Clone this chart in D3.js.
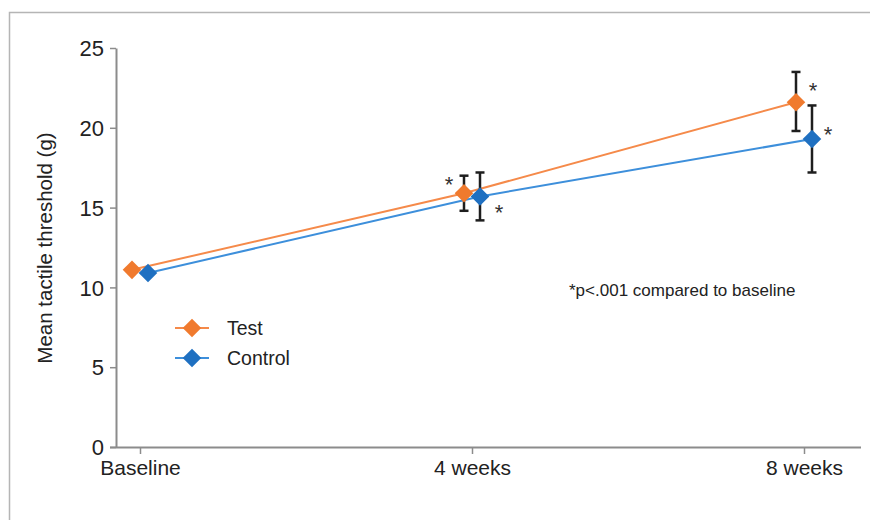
<!DOCTYPE html>
<html>
<head>
<meta charset="utf-8">
<script src="https://cdn.jsdelivr.net/npm/d3@7"></script>
<style>
  body { margin: 0; background: #fff; }
  text { font-family: "Liberation Sans", Arial, sans-serif; fill: #222; }
</style>
</head>
<body>
<div id="chart"></div>
<script>
// Data
const timepoints = ["Baseline", "4 weeks", "8 weeks"];
const seriesNames = ["Test", "Control"];
const testMean = [11.1, 15.9, 21.6];
const testLow = [null, 14.8, 19.8];
const testHigh = [null, 17.0, 23.5];
const controlMean = [10.9, 15.7, 19.3];
const controlLow = [null, 14.2, 17.2];
const controlHigh = [null, 17.2, 21.4];
const significant = [false, true, true];
const yTicks = [0, 5, 10, 15, 20, 25];

const width = 870, height = 520;
const colors = {Test: "#f07a2e", Control: "#1f70c1"};
const lineColors = {Test: "#f58a4a", Control: "#3d8fdb"};

const svg = d3.select("#chart").append("svg")
    .attr("width", width)
    .attr("height", height);

//Outer frame (top and left edges only)
svg.append("path")
    .attr("d", "M9.5," + height + " V12.5 H" + width)
    .attr("fill", "none")
    .attr("stroke", "#b5b5b5")
    .attr("stroke-width", 1.5);

//Scales
const xScale = d3.scalePoint()
    .domain(timepoints)
    .range([140, 804]);
const offset = d3.scalePoint()
    .domain(seriesNames)
    .range([-8, 8]);
const yScale = d3.scaleLinear()
    .domain([0, 25])
    .range([447, 48]);

//Axes
const axisColor = "#8c8c8c";
const yAxis = svg.append("g")
    .attr("transform", "translate(116,0)")
    .call(d3.axisLeft(yScale).tickValues(yTicks).tickSize(6).tickPadding(6).tickSizeOuter(0));
const xAxis = svg.append("g")
    .attr("transform", "translate(0,447)")
    .call(d3.axisBottom(xScale).tickSize(7).tickPadding(6).tickSizeOuter(0));
xAxis.select(".domain").attr("d", "M110,0.5 H861");
[yAxis, xAxis].forEach(function (ax) {
    ax.select(".domain").attr("stroke", axisColor).attr("stroke-width", 2);
    ax.selectAll(".tick line").attr("stroke", axisColor).attr("stroke-width", 1.5);
    ax.selectAll(".tick text")
        .attr("fill", "#222")
        .style("font-size", "22px")
        .style("font-family", "'Liberation Sans', Arial, sans-serif");
});
yAxis.selectAll(".tick text").attr("dy", "0.35em");
xAxis.selectAll(".tick text").style("font-size", "21px").attr("dy", "0.7em");

//Y axis title
svg.append("text")
    .attr("transform", "translate(52,248) rotate(-90)")
    .attr("text-anchor", "middle")
    .style("font-size", "20.5px")
    .text("Mean tactile threshold (g)");

//Series
const series = [
    {name: "Test", mean: testMean, low: testLow, high: testHigh},
    {name: "Control", mean: controlMean, low: controlLow, high: controlHigh}
];
const px = (s, i) => xScale(timepoints[i]) + offset(s.name);

const diamond = d3.symbol().type(d3.symbolDiamond2).size(220);

series.forEach(function (s) {
    const pts = s.mean.map((v, i) => [px(s, i), yScale(v)]);
    svg.append("path")
        .datum(pts)
        .attr("d", d3.line())
        .attr("fill", "none")
        .attr("stroke", lineColors[s.name])
        .attr("stroke-width", 2);
});

//Error bars
series.forEach(function (s) {
    s.mean.forEach(function (v, i) {
        if (s.low[i] === null) return;
        const x = px(s, i);
        const g = svg.append("g").attr("stroke", "#1e1e1e").attr("stroke-width", 2.5);
        g.append("line").attr("x1", x).attr("x2", x)
            .attr("y1", yScale(s.high[i])).attr("y2", yScale(s.low[i]));
        [s.high[i], s.low[i]].forEach(function (e) {
            g.append("line").attr("x1", x - 4.5).attr("x2", x + 4.5)
                .attr("y1", yScale(e)).attr("y2", yScale(e));
        });
    });
});

//Markers
series.forEach(function (s) {
    svg.selectAll(null)
        .data(s.mean)
        .enter().append("path")
        .attr("d", diamond)
        .attr("transform", (d, i) => "translate(" + px(s, i) + "," + yScale(d) + ")")
        .attr("fill", colors[s.name]);
});

//Significance stars (left of test bar at 4 weeks, otherwise right)
const starLayout = {
    Test: [null, {dx: -15, dy: -15}, {dx: 17, dy: -18}],
    Control: [null, {dx: 19, dy: 10}, {dx: 16, dy: -11}]
};
series.forEach(function (s) {
    s.mean.forEach(function (v, i) {
        if (!significant[i]) return;
        const l = starLayout[s.name][i];
        svg.append("text")
            .attr("x", px(s, i) + l.dx)
            .attr("y", yScale(v) + l.dy + 14)
            .attr("text-anchor", "middle")
            .style("font-size", "22px")
            .style("fill", "#333")
            .text("*");
    });
});

//Footnote
svg.append("text")
    .attr("x", 569)
    .attr("y", 296)
    .style("font-size", "17px")
    .text("*p<.001 compared to baseline");

//Legend
const legend = svg.selectAll(".legend")
    .data(seriesNames)
    .enter().append("g")
    .attr("class", "legend")
    .attr("transform", (d, i) => "translate(192," + (328 + i * 30) + ")");
legend.append("line")
    .attr("x1", -17).attr("x2", 17)
    .attr("stroke", d => lineColors[d])
    .attr("stroke-width", 2);
legend.append("path")
    .attr("d", diamond)
    .attr("fill", d => colors[d]);
legend.append("text")
    .attr("x", 35)
    .attr("dy", "0.35em")
    .style("font-size", "19.5px")
    .text(d => d);
</script>
</body>
</html>
